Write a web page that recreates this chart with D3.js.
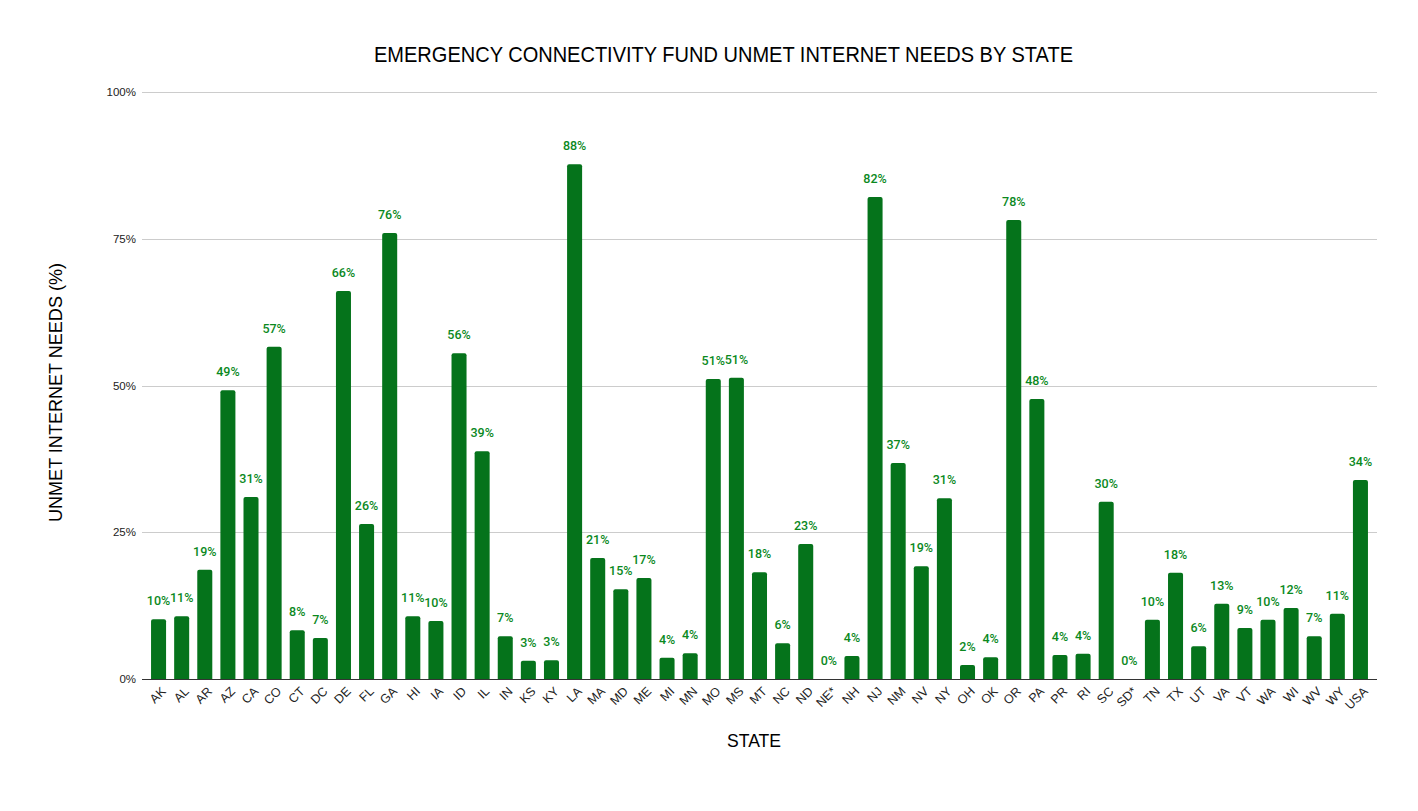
<!DOCTYPE html>
<html>
<head>
<meta charset="utf-8">
<script src="https://cdn.jsdelivr.net/npm/d3@7"></script>
<style>
  body { margin: 0; background: #fff; }
  svg { display: block; }
</style>
</head>
<body>
<svg id="chart" width="1418" height="811"></svg>
<script>
// states along the x axis
var states = ["AK", "AL", "AR", "AZ", "CA", "CO", "CT", "DC", "DE", "FL", "GA", "HI", "IA", "ID", "IL", "IN", "KS", "KY",
  "LA", "MA", "MD", "ME", "MI", "MN", "MO", "MS", "MT", "NC", "ND", "NE*", "NH", "NJ", "NM", "NV", "NY", "OH", "OK",
  "OR", "PA", "PR", "RI", "SC", "SD*", "TN", "TX", "UT", "VA", "VT", "WA", "WI", "WV", "WY", "USA"];
// unmet needs in percent
var unmet = [10.2, 10.7, 18.6, 49.2, 31.0, 56.6, 8.3, 7.0, 66.1, 26.4, 76.0, 10.7, 9.9, 55.5, 38.8, 7.3, 3.1, 3.2,
  87.7, 20.6, 15.3, 17.2, 3.6, 4.4, 51.1, 51.3, 18.2, 6.1, 23.0, 0, 3.9, 82.1, 36.8, 19.2, 30.8, 2.4, 3.7,
  78.2, 47.7, 4.1, 4.3, 30.2, 0, 10.1, 18.1, 5.6, 12.8, 8.7, 10.1, 12.1, 7.3, 11.1, 33.9];
var yTicks = [0, 25, 50, 75, 100];

var svg = d3.select("#chart");

var x = d3.scaleBand()
  .domain(states)
  .range([147, 1372])
  .paddingInner(0.35)
  .paddingOuter(0.175);

var y = d3.scaleLinear()
  .domain([0, 100])
  .range([679, 92]);

// gridlines
svg.append("g")
  .selectAll("line")
  .data(yTicks)
  .enter()
  .append("line")
  .attr("x1", 142)
  .attr("x2", 1377)
  .attr("y1", function (d) { return Math.round(y(d)) + 0.5; })
  .attr("y2", function (d) { return Math.round(y(d)) + 0.5; })
  .attr("stroke", "#cccccc")
  .attr("stroke-width", 1);

// y tick labels
svg.append("g")
  .selectAll("text")
  .data(yTicks)
  .enter()
  .append("text")
  .attr("x", 136)
  .attr("y", function (d) { return y(d) + 4; })
  .attr("text-anchor", "end")
  .attr("font-family", "Liberation Sans, Arial, sans-serif")
  .attr("font-size", 11.5)
  .attr("fill", "#222")
  .text(function (d) { return d + "%"; });

// bars with slightly rounded tops
function barPath(d, i) {
  var x0 = x(states[i]), w = x.bandwidth(), y0 = y(0), y1 = y(d), r = 2;
  if (y0 - y1 < r) r = Math.max(0, y0 - y1);
  return "M" + x0 + "," + y0 +
    "V" + (y1 + r) +
    "Q" + x0 + "," + y1 + " " + (x0 + r) + "," + y1 +
    "H" + (x0 + w - r) +
    "Q" + (x0 + w) + "," + y1 + " " + (x0 + w) + "," + (y1 + r) +
    "V" + y0 + "Z";
}

svg.append("g")
  .selectAll("path")
  .data(unmet)
  .enter()
  .append("path")
  .attr("d", barPath)
  .attr("fill", "#05731b");

// value labels
svg.append("g")
  .selectAll("text")
  .data(unmet)
  .enter()
  .append("text")
  .attr("x", function (d, i) { return x(states[i]) + x.bandwidth() / 2; })
  .attr("y", function (d) { return y(d) - 14; })
  .attr("text-anchor", "middle")
  .attr("font-family", "Roboto, sans-serif")
  .attr("font-size", 12.5)
  .attr("font-weight", 500)
  .attr("fill", "#0b891e")
  .text(function (d) { return Math.round(d) + "%"; });

// x axis line
svg.append("line")
  .attr("x1", 142)
  .attr("x2", 1377)
  .attr("y1", 679.5)
  .attr("y2", 679.5)
  .attr("stroke", "#333")
  .attr("stroke-width", 1);

// x tick labels, rotated
svg.append("g")
  .selectAll("text")
  .data(states)
  .enter()
  .append("text")
  .attr("transform", function (d) {
    return "translate(" + (x(d) + x.bandwidth() / 2 + 5) + ",689) rotate(-45)";
  })
  .attr("text-anchor", "end")
  .attr("dy", "0.35em")
  .attr("font-family", "Liberation Sans, Arial, sans-serif")
  .attr("font-size", 12.5)
  .attr("fill", "#222")
  .text(function (d) { return d; });

// title
svg.append("text")
  .attr("x", 723.5)
  .attr("y", 61.5)
  .attr("text-anchor", "middle")
  .attr("font-family", "Liberation Sans, Arial, sans-serif")
  .attr("font-size", 22)
  .attr("textLength", 699)
  .attr("lengthAdjust", "spacingAndGlyphs")
  .attr("fill", "#000")
  .text("EMERGENCY CONNECTIVITY FUND UNMET INTERNET NEEDS BY STATE");

// x axis title
svg.append("text")
  .attr("x", 754)
  .attr("y", 747)
  .attr("text-anchor", "middle")
  .attr("font-family", "Liberation Sans, Arial, sans-serif")
  .attr("font-size", 18)
  .attr("textLength", 54)
  .attr("lengthAdjust", "spacingAndGlyphs")
  .attr("fill", "#000")
  .text("STATE");

// y axis title
svg.append("text")
  .attr("transform", "translate(62,392.5) rotate(-90)")
  .attr("text-anchor", "middle")
  .attr("font-family", "Liberation Sans, Arial, sans-serif")
  .attr("font-size", 19)
  .attr("textLength", 259)
  .attr("lengthAdjust", "spacingAndGlyphs")
  .attr("fill", "#000")
  .text("UNMET INTERNET NEEDS (%)");
</script>
</body>
</html>
